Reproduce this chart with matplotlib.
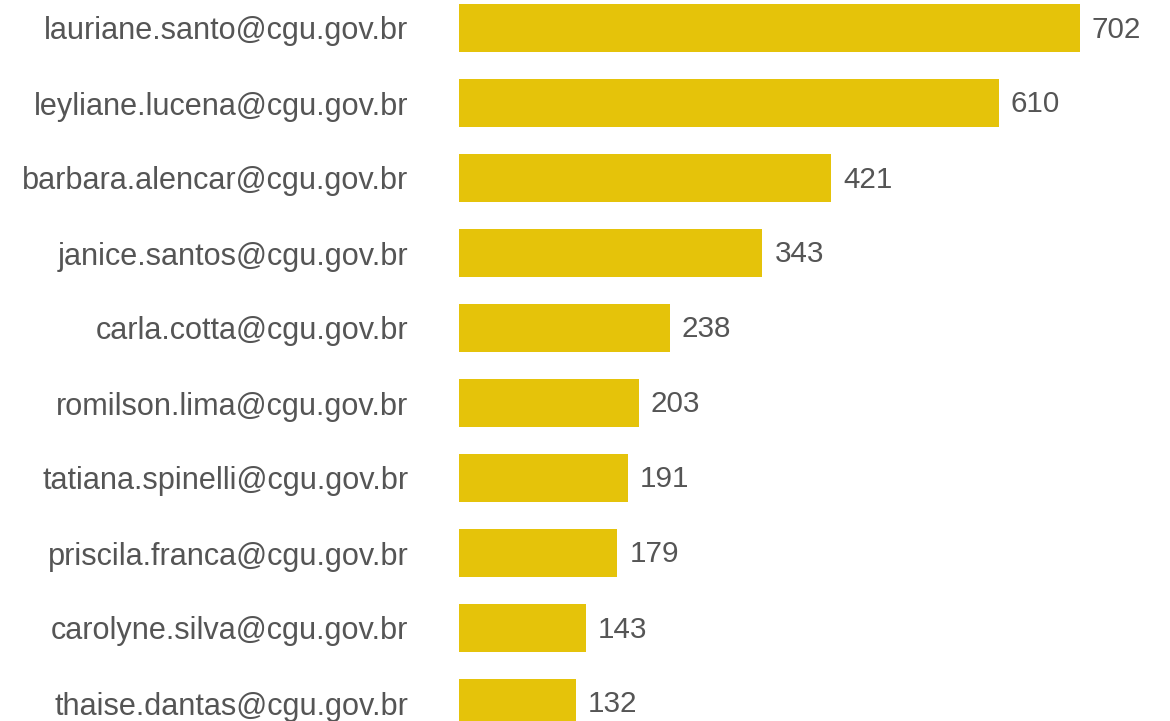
import matplotlib.pyplot as plt
import numpy as np

plt.rcParams['font.family'] = ['Liberation Sans', 'DejaVu Sans']

emails = ['lauriane.santo@cgu.gov.br', 'leyliane.lucena@cgu.gov.br',
          'barbara.alencar@cgu.gov.br', 'janice.santos@cgu.gov.br',
          'carla.cotta@cgu.gov.br', 'romilson.lima@cgu.gov.br',
          'tatiana.spinelli@cgu.gov.br', 'priscila.franca@cgu.gov.br',
          'carolyne.silva@cgu.gov.br', 'thaise.dantas@cgu.gov.br']
counts = [702, 610, 421, 343, 238, 203, 191, 179, 143, 132]

bar_color = '#E5C30A'
text_color = '#555555'

fig = plt.figure(figsize=(11.7, 7.21), dpi=100)
ax = fig.add_axes([459 / 1170, 0, 711 / 1170, 1])

y = np.arange(len(emails))
ax.barh(y, counts, height=0.653, color=bar_color)
for yi, v in zip(y, counts):
    ax.text(v + 13.5, yi + 0.02, str(v), va='center', ha='left', fontsize=21.3, color=text_color)

ax.set_xlim(0, 711 / (621 / 702))
ax.set_ylim((721 - 28) / 75, -28 / 75)
ax.set_yticks(y)
ax.set_yticklabels(emails, fontsize=22.1, color=text_color)
ax.tick_params(axis='y', length=0, pad=36.5)
ax.set_xticks([])
for s in ax.spines.values():
    s.set_visible(False)

fig.savefig('out.png', dpi=100, facecolor='white')
